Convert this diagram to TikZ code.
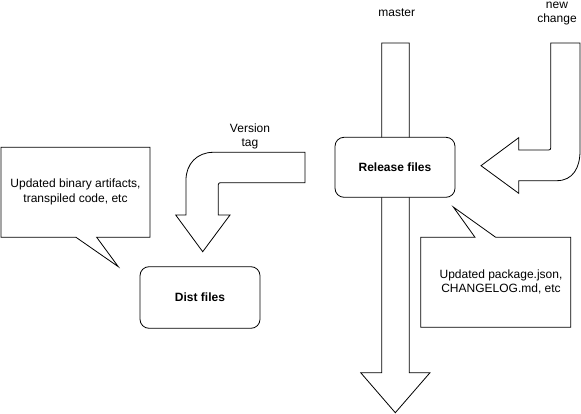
\documentclass[tikz,border=0pt]{standalone}
\usepackage{fontspec}
\setmainfont{Liberation Sans}
\begin{document}
\begin{tikzpicture}[x=1pt,y=-1pt,
  shapeline/.style={draw=black,line width=0.8pt,fill=white,line join=miter},
  filebox/.style={draw=black,line width=0.8pt,fill=white,rounded corners=9pt,minimum width=120pt,inner sep=0pt,font=\fontsize{12}{14}\selectfont\bfseries},
  lbl/.style={inner sep=0pt,align=center,font=\fontsize{12}{14.5}\selectfont}]
\useasboundingbox (0,0) rectangle (581,414);
% master arrow
\draw[shapeline] (381.7,43) -- (409.3,43) -- (409.3,372.7) -- (430,372.7) -- (395.3,412.7) -- (360.7,372.7) -- (381.7,372.7) -- cycle;
% release files box
\node[filebox,minimum height=60pt] (rel) at (395,167.3) {Release files};
% dist files box
\node[filebox,minimum height=61.6pt] (dist) at (200,297.5) {Dist files};
% new change arrow
\draw[shapeline] (550.7,43) -- (580,43) -- (580,151) .. controls (580,167.6) and (573,180.7) .. (556.7,180.7) -- (518.7,180.7) -- (518.7,193.3) -- (481,165.7) -- (518.7,137.7) -- (518.7,150) -- (548.7,150) .. controls (550,150) and (550.7,149.3) .. (550.7,148) -- cycle;
% version tag arrow
\draw[shapeline] (305,152.3) -- (213.3,152.3) .. controls (197,152.3) and (186,164) .. (186,180) -- (186,215) -- (175.7,215) -- (202.7,251.7) -- (230,215) -- (218.3,215) -- (218.3,184.7) .. controls (218.3,183.5) and (219.3,182.7) .. (220.3,182.7) -- (305,182.7) -- cycle;
% left callout
\draw[shapeline] (1,147.3) -- (150,147.3) -- (150,237.3) -- (96.7,237.3) -- (118.3,266.7) -- (76,237.3) -- (1,237.3) -- cycle;
\node[lbl] (lt) at (75.5,191.7) {Updated binary artifacts,\\transpiled code, etc};
% right callout
\draw[shapeline] (420.7,237.3) -- (475,237.3) -- (453.3,207) -- (495.7,237.3) -- (570.7,237.3) -- (570.7,327.3) -- (420.7,327.3) -- cycle;
\node[lbl] (rt) at (501,282) {Updated package.json,\\CHANGELOG.md, etc};
% labels
\node[lbl] (master) at (396.7,12.7) {master};
\node[lbl] (nc) at (557,13.5) {new\\change};
\node[lbl] (vt) at (250,136.5) {Version\\tag};
\end{tikzpicture}
\end{document}
